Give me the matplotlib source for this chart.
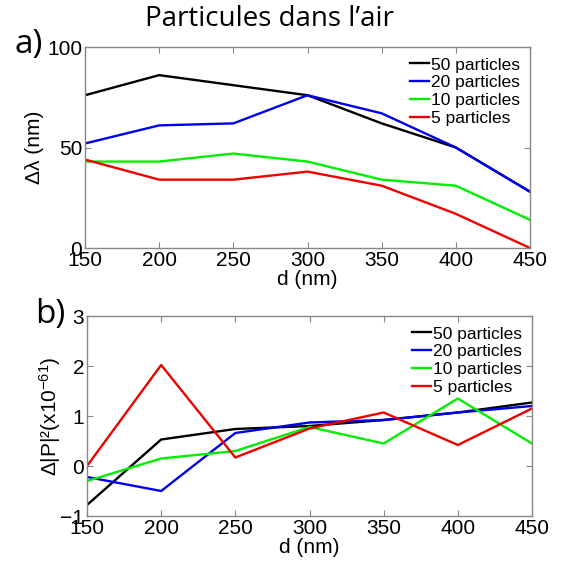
import matplotlib
matplotlib.use("Agg")
import matplotlib.pyplot as plt

d = [150, 200, 250, 300, 350, 400, 450]
labels = ["50 particles", "20 particles", "10 particles", "5 particles"]
colors = ["#000000", "#0000ee", "#00ee00", "#ee0000"]

dl_50 = [76, 86, 81, 76, 62, 50, 28]
dl_20 = [52, 61, 62, 76, 67, 50, 28]
dl_10 = [43, 43, 47, 43, 34, 31, 14]
dl_5 = [44, 34, 34, 38, 31, 17, 0]

dp_50 = [-0.78, 0.53, 0.74, 0.80, 0.92, 1.07, 1.27]
dp_20 = [-0.22, -0.50, 0.66, 0.87, 0.92, 1.07, 1.20]
dp_10 = [-0.30, 0.15, 0.30, 0.78, 0.45, 1.35, 0.45]
dp_5 = [0.00, 2.02, 0.17, 0.75, 1.07, 0.42, 1.15]

plt.rcParams['font.family'] = ['Liberation Sans', 'DejaVu Sans']
plt.rcParams['mathtext.fontset'] = 'custom'
plt.rcParams['mathtext.rm'] = 'Liberation Sans'
plt.rcParams['mathtext.it'] = 'Liberation Sans'
plt.rcParams['mathtext.default'] = 'regular'
W, H = 573, 563
fig = plt.figure(figsize=(W/100, H/100), dpi=100)

def ax_rect(l, t, r, b):
    return [l/W, 1 - b/H, (r-l)/W, (b-t)/H]

ax1 = fig.add_axes(ax_rect(85, 47, 530, 248))
ax2 = fig.add_axes(ax_rect(87, 316, 532, 516))

def style(ax):
    for s in ax.spines.values():
        s.set_color('#888888')
        s.set_linewidth(1.0)
    ax.tick_params(direction='in', top=True, right=True, labelsize=15, length=4,
                   color='#888888', pad=2)
    ax.set_xlim(150, 450)
    ax.set_xticks(d)
    ax.set_xlabel('d (nm)', fontsize=15, labelpad=0)

for ys, lab, c in zip([dl_50, dl_20, dl_10, dl_5], labels, colors):
    ax1.plot(d, ys, color=c, lw=1.7, label=lab)
style(ax1)
ax1.set_ylim(0, 100)
ax1.set_yticks([0, 50, 100])
ax1.set_ylabel('\u0394\u03bb (nm)', fontsize=15, labelpad=2)
ax1.legend(loc='upper right', frameon=False, fontsize=12.5, handlelength=1.1,
           handletextpad=0.1, labelspacing=0.15, borderaxespad=0.2)

for ys, lab, c in zip([dp_50, dp_20, dp_10, dp_5], labels, colors):
    ax2.plot(d, ys, color=c, lw=1.7, label=lab)
style(ax2)
ax2.set_ylim(-1, 3)
ax2.set_yticks([-1, 0, 1, 2, 3])
ax2.set_ylabel('\u0394|P|\u00b2(x10$^{-61}$)', fontsize=15, labelpad=-2)
ax2.legend(loc='upper right', frameon=False, fontsize=12.5, handlelength=1.1,
           handletextpad=0.1, labelspacing=0.15, borderaxespad=0.2)

fig.text(0.47, 1 - 19/H, 'Particules dans l\u2019air', ha='center', va='center',
         fontsize=20, family=['Open Sans', 'DejaVu Sans'])
fig.text(14/W, 1 - 45/H, 'a)', ha='left', va='center', fontsize=24,
         family=['Open Sans', 'DejaVu Sans'])
fig.text(35/W, 1 - 314/H, 'b)', ha='left', va='center', fontsize=24,
         family=['Open Sans', 'DejaVu Sans'])

fig.savefig('out.png', dpi=100)
